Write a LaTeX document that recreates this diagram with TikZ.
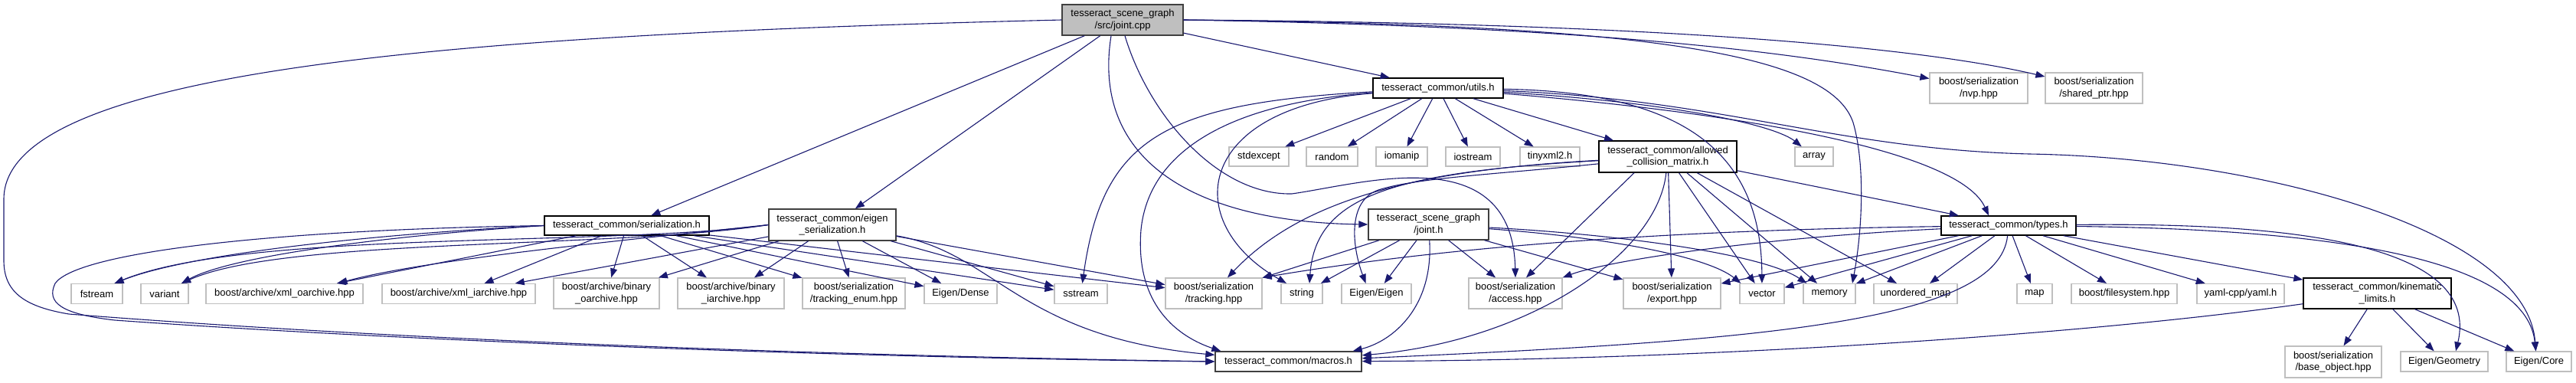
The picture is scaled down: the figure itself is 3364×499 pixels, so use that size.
\documentclass[tikz,border=0pt]{standalone}
\usepackage{fontspec}
\setmainfont{Liberation Sans}
\usetikzlibrary{arrows.meta}
\definecolor{edgec}{HTML}{191970}
\definecolor{dgray}{HTML}{404040}
\definecolor{lgray}{HTML}{BFBFBF}
\definecolor{rootfill}{HTML}{BFBFBF}
\tikzset{
  box/.style={rectangle, inner sep=0pt, align=center, fill=white, line width=1.4pt},
  bk/.style={box, draw=black},
  dk/.style={box, draw=dgray},
  gy/.style={box, draw=lgray, line width=1.2pt},
  rootbox/.style={box, draw=dgray, fill=rootfill},
  edge/.style={draw=edgec, line width=1.1pt, -{Triangle[length=12pt,width=9pt]}},
}
\begin{document}
\begin{tikzpicture}[x=1pt,y=-1pt,font=\fontsize{13}{15.5}\selectfont]
\useasboundingbox (0,0) rectangle (3364,499);
% nodes
\node[rootbox, minimum width=158pt, minimum height=40pt] (J) at (1466,26) {tesseract\_scene\_graph\\/src/joint.cpp};
\node[bk, minimum width=170pt, minimum height=26pt] (U) at (1878,115) {tesseract\_common/utils.h};
\node[gy, minimum width=128pt, minimum height=40pt] (nvp) at (2584,115) {boost/serialization\\/nvp.hpp};
\node[gy, minimum width=127pt, minimum height=40pt] (shp) at (2734.5,115) {boost/serialization\\/shared\_ptr.hpp};
\node[gy, minimum width=78pt, minimum height=25pt] (stdexcept) at (1644,204.5) {stdexcept};
\node[gy, minimum width=67pt, minimum height=25pt] (random) at (1739.5,204.5) {random};
\node[gy, minimum width=67pt, minimum height=25pt] (iomanip) at (1830.5,204.5) {iomanip};
\node[gy, minimum width=71pt, minimum height=25pt] (iostream) at (1923.5,204.5) {iostream};
\node[gy, minimum width=78pt, minimum height=25pt] (tinyxml) at (2024,204.5) {tinyxml2.h};
\node[bk, minimum width=180pt, minimum height=41pt] (A) at (2178,204.5) {tesseract\_common/allowed\\\_collision\_matrix.h};
\node[gy, minimum width=50pt, minimum height=25pt] (array) at (2369,204.5) {array};
\node[bk, minimum width=215pt, minimum height=25pt] (S) at (818.5,294.5) {tesseract\_common/serialization.h};
\node[dk, minimum width=166pt, minimum height=41pt] (E) at (1087,293.5) {tesseract\_common/eigen\\\_serialization.h};
\node[dk, minimum width=157pt, minimum height=40pt] (H) at (1865.5,293) {tesseract\_scene\_graph\\/joint.h};
\node[bk, minimum width=176pt, minimum height=25pt] (T) at (2623,294.5) {tesseract\_common/types.h};
\node[gy, minimum width=67pt, minimum height=26pt] (fstream) at (126.5,383.5) {fstream};
\node[gy, minimum width=62pt, minimum height=26pt] (variant) at (215,383.5) {variant};
\node[gy, minimum width=205pt, minimum height=26pt] (xmloa) at (371.5,383.5) {boost/archive/xml\_oarchive.hpp};
\node[gy, minimum width=200pt, minimum height=26pt] (xmlia) at (599,383.5) {boost/archive/xml\_iarchive.hpp};
\node[gy, minimum width=138pt, minimum height=40pt] (bino) at (792,383) {boost/archive/binary\\\_oarchive.hpp};
\node[gy, minimum width=139pt, minimum height=40pt] (bini) at (954.5,383) {boost/archive/binary\\\_iarchive.hpp};
\node[gy, minimum width=134pt, minimum height=40pt] (tenum) at (1115,383) {boost/serialization\\/tracking\_enum.hpp};
\node[gy, minimum width=95pt, minimum height=26pt] (edense) at (1254.5,383.5) {Eigen/Dense};
\node[gy, minimum width=69pt, minimum height=26pt] (sstream) at (1411.5,383.5) {sstream};
\node[gy, minimum width=126pt, minimum height=40pt] (tracking) at (1585,383) {boost/serialization\\/tracking.hpp};
\node[gy, minimum width=54pt, minimum height=26pt] (string) at (1700,383.5) {string};
\node[gy, minimum width=91pt, minimum height=26pt] (eeigen) at (1797.5,383.5) {Eigen/Eigen};
\node[gy, minimum width=122pt, minimum height=40pt] (access) at (1979,383) {boost/serialization\\/access.hpp};
\node[gy, minimum width=127pt, minimum height=40pt] (export) at (2183.5,383) {boost/serialization\\/export.hpp};
\node[gy, minimum width=58pt, minimum height=26pt] (vector) at (2301,383.5) {vector};
\node[gy, minimum width=68pt, minimum height=26pt] (memory) at (2389,383.5) {memory};
\node[gy, minimum width=109pt, minimum height=26pt] (umap) at (2501.5,383.5) {unordered\_map};
\node[gy, minimum width=46pt, minimum height=26pt] (map) at (2657,383.5) {map};
\node[gy, minimum width=138pt, minimum height=26pt] (fs) at (2774,383.5) {boost/filesystem.hpp};
\node[gy, minimum width=114pt, minimum height=26pt] (yaml) at (2926,383.5) {yaml-cpp/yaml.h};
\node[bk, minimum width=193pt, minimum height=40pt] (K) at (3104.5,383) {tesseract\_common/kinematic\\\_limits.h};
\node[gy, minimum width=126pt, minimum height=41pt] (base) at (3047,472.5) {boost/serialization\\/base\_object.hpp};
\node[dk, minimum width=191pt, minimum height=26pt] (M) at (1682.5,472) {tesseract\_common/macros.h};
\node[gy, minimum width=114pt, minimum height=26pt] (egeom) at (3192,472) {Eigen/Geometry};
\node[gy, minimum width=85pt, minimum height=26pt] (ecore) at (3315.5,472) {Eigen/Core};
% edges from joint.cpp
\draw[edge] (J) -- (U);
\draw[edge] (J.east) .. controls (2100,35) and (2350,70) .. (nvp);
\draw[edge] (J.east) .. controls (2150,30) and (2500,60) .. (shp);
\draw[edge] (J.east) .. controls (2150,32) and (2390,70) .. (2420,160) .. controls (2436,215) and (2432,300) .. ([xshift=30pt]memory.north);
\draw[edge] (J) -- (S);
\draw[edge] (J) -- (E);
\draw[edge] ([xshift=-15pt]J.south) .. controls (1425,210) and (1560,290) .. (H.west);
\draw[edge] ([xshift=3pt]J.south) .. controls (1500,150) and (1590,255) .. (1687,253) .. controls (1780,240) and (1975,180) .. (access.north);
\draw[edge] (J.west) .. controls (600,45) and (5,90) .. (5,260) -- (5,340) .. controls (5,380) and (30,400) .. (90,410) .. controls (600,450) and (1200,466) .. (M.west);
% edges from utils.h
\draw[edge] (U) -- (stdexcept);
\draw[edge] (U) -- (random);
\draw[edge] (U) -- (iomanip);
\draw[edge] (U) -- (iostream);
\draw[edge] (U) -- (tinyxml);
\draw[edge] (U) -- (A);
\draw[edge] (U) .. controls (2200,135) and (2320,165) .. (array);
\draw[edge] (U) .. controls (2300,150) and (2560,200) .. ([xshift=-26pt]T.north);
\draw[edge] (U) .. controls (2250,130) and (2400,195) .. (2650,201) .. controls (2950,206) and (3300,300) .. ([xshift=-4pt]ecore.north);
\draw[edge] (U) .. controls (2200,120) and (2300,200) .. (vector);
\draw[edge] (U) .. controls (1520,135) and (1440,180) .. (sstream);
\draw[edge] (U) .. controls (1560,140) and (1540,290) .. ([xshift=-20pt]string.north);
\draw[edge] (U) .. controls (1600,135) and (1500,200) .. (1490,300) .. controls (1482,400) and (1540,440) .. ([xshift=8pt]M.north west);
% edges from allowed_collision_matrix.h
\draw[edge] (A) -- (T);
\draw[edge] (A) .. controls (1850,222) and (1700,260) .. ([xshift=18pt]tracking.north);
\draw[edge] (A) .. controls (1820,225) and (1718,255) .. ([xshift=10pt]string.north);
\draw[edge] (A) .. controls (1950,228) and (1850,232) .. (1800,248) .. controls (1760,262) and (1765,320) .. ([xshift=-14pt]eeigen.north);
\draw[edge] ([xshift=-44pt]A.south) -- ([xshift=14pt]access.north);
\draw[edge] (A) .. controls (2165,330) and (2000,445) .. (M);
\draw[edge] (A) -- (export);
\draw[edge] (A) -- (vector);
\draw[edge] (A) -- (memory);
\draw[edge] (A) -- (umap);
% edges from serialization.h
\draw[edge] (S.west) .. controls (500,305) and (250,330) .. ([xshift=23pt]fstream.north);
\draw[edge] (S.west) .. controls (500,308) and (300,335) .. ([xshift=22pt]variant.north);
\draw[edge] (S) -- (xmloa);
\draw[edge] (S) -- (xmlia);
\draw[edge] (S) -- (bino);
\draw[edge] (S) -- (bini);
\draw[edge] (S) -- (tenum);
\draw[edge] (S) -- (edense);
\draw[edge] (S) -- (sstream);
\draw[edge] (S) -- (tracking);
\draw[edge] (S.west) .. controls (350,300) and (100,330) .. (72,370) .. controls (60,395) and (80,410) .. (150,418) .. controls (600,450) and (1200,468) .. (M.west);
% edges from eigen_serialization.h
\draw[edge] (E.west) .. controls (800,322) and (320,300) .. ([xshift=23pt]fstream.north);
\draw[edge] (E.west) .. controls (800,325) and (370,310) .. ([xshift=22pt]variant.north);
\draw[edge] (E.west) .. controls (800,315) and (550,340) .. ([xshift=70pt]xmloa.north);
\draw[edge] (E) -- (xmlia);
\draw[edge] (E) -- (bino);
\draw[edge] (E) -- (bini);
\draw[edge] (E) -- (tenum);
\draw[edge] (E) -- (edense);
\draw[edge] (E) -- (sstream);
\draw[edge] (E) -- (tracking);
\draw[edge] (E) .. controls (1300,330) and (1330,440) .. (M);
% edges from joint.h
\draw[edge] (H) -- (tracking);
\draw[edge] (H) -- (string);
\draw[edge] (H) -- (eeigen);
\draw[edge] (H) -- (access);
\draw[edge] (H) -- (export);
\draw[edge] (H) .. controls (1872,400) and (1820,445) .. ([xshift=-12pt]M.north east);
\draw[edge] (H) .. controls (2100,310) and (2230,335) .. ([xshift=2pt]vector.north west);
\draw[edge] (H) .. controls (2100,305) and (2300,330) .. ([xshift=5pt]memory.north west);
% edges from types.h
\draw[edge] (T) .. controls (2200,300) and (1900,320) .. (tracking.north east);
\draw[edge] (T) .. controls (2300,310) and (2100,340) .. (access.north east);
\draw[edge] (T) -- (export);
\draw[edge] (T) -- (vector);
\draw[edge] (T) -- (memory);
\draw[edge] (T) -- (umap);
\draw[edge] (T) -- (map);
\draw[edge] (T) -- (fs);
\draw[edge] (T) -- (yaml);
\draw[edge] (T) -- (K);
\draw[edge] (T) .. controls (3000,290) and (3240,320) .. ([xshift=15pt]egeom.north);
\draw[edge] (T) .. controls (3100,300) and (3300,350) .. ([xshift=-4pt]ecore.north);
\draw[edge] (T) .. controls (2610,420) and (2300,445) .. (M);
% edges from kinematic_limits.h
\draw[edge] (K) -- (base);
\draw[edge] (K) -- (egeom);
\draw[edge] (K) -- (ecore);
\draw[edge] (K) .. controls (2700,440) and (2200,470) .. (M);
\end{tikzpicture}
\end{document}
